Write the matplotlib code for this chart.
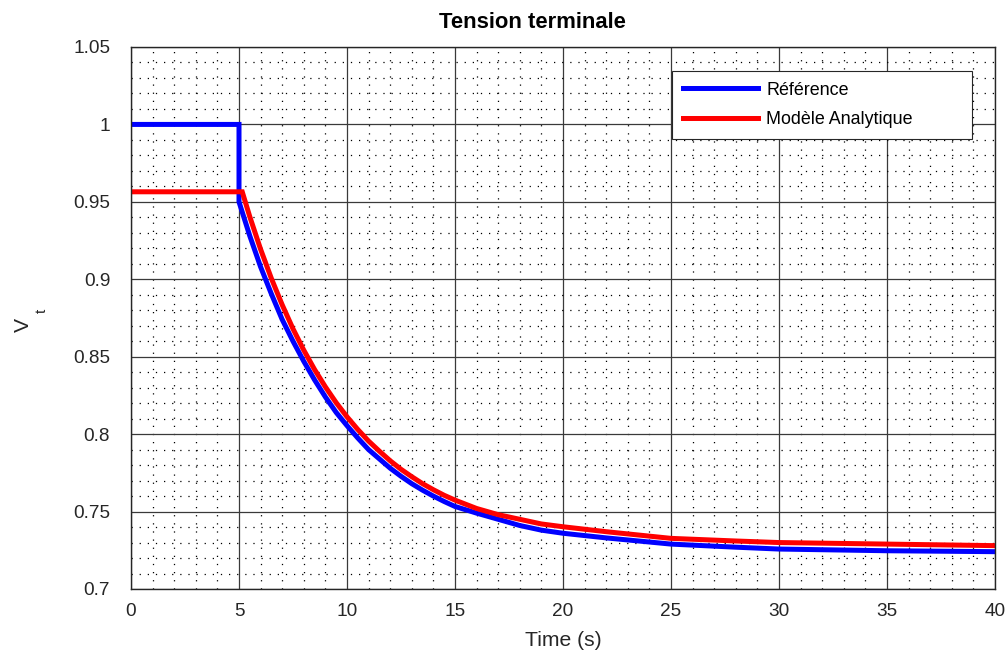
"""
Tension terminale: reference response vs. analytic model after the step at t = 5 s.
"""

import matplotlib

matplotlib.use("Agg")
import matplotlib.pyplot as plt
from matplotlib.ticker import MultipleLocator


# Reference response (blue)
time_reference = [0.0, 5.0, 5.0, 5.5, 6.0, 6.5, 7.0, 7.5, 8.0, 8.5, 9.0, 9.5, 10.0,
                  10.5, 11.0, 11.5, 12.0, 12.5, 13.0, 13.5, 14.0, 14.5, 15.0, 16.0,
                  17.0, 18.0, 19.0, 20.0, 22.0, 25.0, 28.0, 30.0, 35.0, 40.0]
vt_reference = [1.000, 1.000, 0.950, 0.928, 0.908, 0.8905, 0.874, 0.860, 0.847, 0.835,
                0.824, 0.814, 0.8055, 0.7975, 0.790, 0.784, 0.778, 0.7728, 0.768,
                0.7638, 0.760, 0.7565, 0.7533, 0.749, 0.745, 0.741, 0.738, 0.736,
                0.733, 0.729, 0.727, 0.7258, 0.7247, 0.7241]

# Analytic model (red)
time_model = [0.0, 5.15, 5.5, 6.0, 6.5, 7.0, 7.5, 8.0, 8.5, 9.0, 9.5, 10.0,
              10.5, 11.0, 11.5, 12.0, 12.5, 13.0, 13.5, 14.0, 14.5, 15.0, 16.0,
              17.0, 18.0, 19.0, 20.0, 22.0, 25.0, 28.0, 30.0, 35.0, 40.0]
vt_model = [0.9565, 0.9565, 0.9404, 0.9194, 0.9005, 0.8835, 0.868, 0.8542, 0.8417,
            0.8305, 0.8203, 0.8112, 0.803, 0.7955, 0.789, 0.7828, 0.7773, 0.7725,
            0.768, 0.7641, 0.7605, 0.7574, 0.752, 0.748, 0.745, 0.742, 0.7402,
            0.737, 0.7327, 0.731, 0.730, 0.729, 0.728]

x_ticks = [0, 5, 10, 15, 20, 25, 30, 35, 40]
x_tick_labels = ["0", "5", "10", "15", "20", "25", "30", "35", "40"]
y_ticks = [0.7, 0.75, 0.8, 0.85, 0.9, 0.95, 1.0, 1.05]
y_tick_labels = ["0.7", "0.75", "0.8", "0.85", "0.9", "0.95", "1", "1.05"]

TEXT_COLOR = "#262626"
plt.rcParams["font.family"] = ["Liberation Sans", "DejaVu Sans"]

figure = plt.figure(figsize=(10.08, 6.58), dpi=100)
axis = figure.add_axes([131 / 1008, 69 / 658, 864 / 1008, 542 / 658])

axis.plot(time_reference, vt_reference, color="#0000ff", lw=3.6, label="Référence",
          solid_joinstyle="miter")
axis.plot(time_model, vt_model, color="#ff0000", lw=3.6, label="Modèle Analytique",
          solid_joinstyle="miter")

axis.set_xlim(0, 40)
axis.set_ylim(0.7, 1.05)
axis.set_xticks(x_ticks)
axis.set_xticklabels(x_tick_labels)
axis.set_yticks(y_ticks)
axis.set_yticklabels(y_tick_labels)
axis.xaxis.set_minor_locator(MultipleLocator(1))
axis.yaxis.set_minor_locator(MultipleLocator(0.01))

# MATLAB-style grid: solid major lines, dotted minor lines
axis.grid(which="major", color="#3a3a3a", lw=0.9, ls="-")
axis.grid(which="minor", color="#000000", lw=0.9, ls=(0, (1, 5.5)))
axis.set_axisbelow(True)

for spine in axis.spines.values():
    spine.set_color(TEXT_COLOR)
    spine.set_linewidth(1.0)

axis.tick_params(axis="both", which="both", direction="in", length=0,
                 labelsize=13.7, colors=TEXT_COLOR)
axis.tick_params(axis="x", pad=10)
axis.tick_params(axis="y", pad=15)

axis.set_title("Tension terminale", fontsize=15.8, fontweight="bold", pad=14,
               x=(532 - 131) / 864)
axis.set_xlabel("Time (s)", fontsize=15.2, color=TEXT_COLOR, labelpad=8)
axis.set_ylabel("V", fontsize=15.2, color=TEXT_COLOR, va="center")
axis.yaxis.set_label_coords(-0.125, 0.487)
figure.text(42 / 1008, 1 - 311 / 658, "t", fontsize=11, color=TEXT_COLOR,
            rotation=90, ha="center", va="center")

# Legend box stretched to the wide MATLAB frame
legend_left = (672 - 131) / 864
legend_right = (972 - 131) / 864
legend_top = (589 - 71) / 542
legend_bottom = (589 - 137) / 542
legend = axis.legend(loc="upper left",
                     bbox_to_anchor=(legend_left, legend_bottom,
                                     legend_right - legend_left,
                                     legend_top - legend_bottom),
                     mode="expand", borderaxespad=0, fontsize=12.9,
                     handlelength=4.2, handletextpad=0.45, labelspacing=0.7,
                     fancybox=False, framealpha=1, edgecolor=TEXT_COLOR,
                     borderpad=0.6)
legend.get_frame().set_linewidth(0.8)

figure.savefig("out.png", dpi=100)
